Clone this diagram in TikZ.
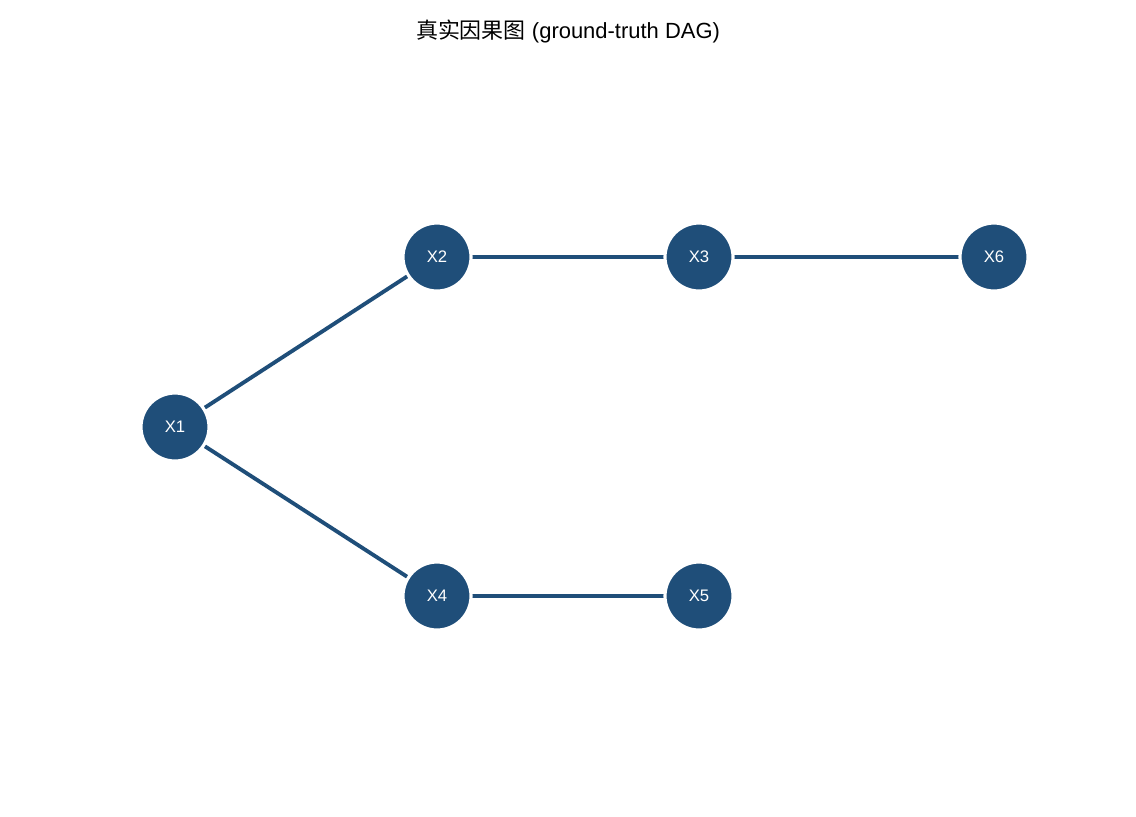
\documentclass[tikz,border=0pt]{standalone}
\usepackage{fontspec}
\setmainfont{Liberation Sans}
\newfontfamily\cjk{Noto Sans CJK SC}
\usetikzlibrary{positioning}
\definecolor{dagblue}{RGB}{31,78,121}
\tikzset{
  var/.style={circle, fill=dagblue, draw=white, line width=1.8pt, minimum size=1.36cm,
              inner sep=0pt, text=white, font=\fontsize{9.5}{11}\selectfont},
  edge/.style={draw=dagblue, line width=2.2pt}
}
\begin{document}
\begin{tikzpicture}[x=0.02cm,y=-0.02cm]
\useasboundingbox (0,0) rectangle (1136,816);
\node[font=\fontsize{12.5}{14}\selectfont] (title) at (568,31) {{\cjk 真实因果图} (ground-truth DAG)};
% edges first, nodes on top
\coordinate (p1) at (175,427);
\coordinate (p2) at (437,257);
\coordinate (p3) at (699,257);
\coordinate (p6) at (994,257);
\coordinate (p4) at (437,596);
\coordinate (p5) at (699,596);
\draw[edge] (p1) -- (p2);
\draw[edge] (p1) -- (p4);
\draw[edge] (p2) -- (p3);
\draw[edge] (p3) -- (p6);
\draw[edge] (p4) -- (p5);
\node[var] (x1) at (p1) {X1};
\node[var] (x2) at (p2) {X2};
\node[var] (x3) at (p3) {X3};
\node[var] (x6) at (p6) {X6};
\node[var] (x4) at (p4) {X4};
\node[var] (x5) at (p5) {X5};
\end{tikzpicture}
\end{document}
